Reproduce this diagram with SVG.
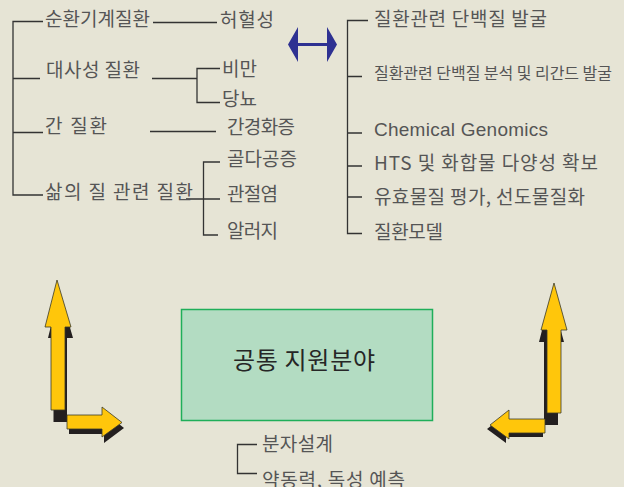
<svg xmlns="http://www.w3.org/2000/svg" width="624" height="487" viewBox="0 0 624 487">
<style>
  .t { font-family: "Noto Sans CJK KR", "Noto Sans", sans-serif; font-size: 19px; fill: #555555; }
  .s { font-size: 16px; }
  .en { font-family: "Liberation Sans", "Noto Sans", sans-serif; font-size: 19px; }
  .ln { stroke: #333333; stroke-width: 1.3; fill: none; }
  .ya { fill: #ffc60b; stroke: #3a3a2a; stroke-width: 0.8; }
  .sh { fill: #231f20; }
</style>
<rect x="0" y="0" width="624" height="487" fill="#e6e4d5"/>

<g id="connectors">
  <path class="ln" d="M43,21.5 H13 V195 H43 M13,78.5 H40 M13,132.5 H43"/>
  <path class="ln" d="M153,22.5 H217"/>
  <path class="ln" d="M152,78.5 H197 M220,68.5 H197 V102.5 H220"/>
  <path class="ln" d="M150,131.5 H216"/>
  <path class="ln" d="M186,199 H220 M220,162 H203.5 V235 H218"/>
  <path class="ln" d="M368,20.5 H347.5 V233.5 H362 M347.5,76.5 H362 M347.5,133 H362 M347.5,166 H362 M347.5,197 H362"/>
  <path class="ln" d="M257,444.5 H237.5 V473.5 H257"/>
</g>

<g id="blue-double-arrow">
  <polygon fill="#2e3192" points="288,44.5 298,27 298,43 327,43 327,27 337,44.5 327,62 327,46 298,46 298,62"/>
</g>

<g id="left-arrows">
  <polygon class="sh" points="59.5,291 73,338 67,338 67,422 53.5,422 53.5,338 48,338"/>
  <polygon class="ya" points="57,280 71,327 65,327 65,410 51,410 51,327 45,327"/>
  <polygon class="sh" points="69,420 104,420 104,412 124,428 104,443 104,434 69,434"/>
  <polygon class="ya" points="67,415 102,415 102,407 122,422.5 102,437 102,429 67,429"/>
</g>

<g id="right-arrows">
  <polygon class="sh" points="551,295 564,342 558,342 558,425 544,425 544,342 539,342"/>
  <polygon class="ya" points="554,283 567,330 561,330 561,413 547,413 547,330 541,330"/>
  <polygon class="sh" points="543,423 506,423 506,414 487,429 506,443 506,437 543,437"/>
  <polygon class="ya" points="545,419 509,419 509,410 490,425 509,439 509,433 545,433"/>
</g>

<g id="n-circ"><text class="t" x="45" y="26" textLength="105">순환기계질환</text></g>
<g id="n-hyeol"><text class="t" x="220" y="27" textLength="54">허혈성</text></g>
<g id="n-meta"><text class="t" x="46" y="77" textLength="94">대사성 질환</text></g>
<g id="n-obesity"><text class="t" x="222" y="76" textLength="35">비만</text></g>
<g id="n-diabetes"><text class="t" x="222" y="106" textLength="35">당뇨</text></g>
<g id="n-liver"><text class="t" x="45" y="133" textLength="62">간 질환</text></g>
<g id="n-cirrhosis"><text class="t" x="227" y="134" textLength="68">간경화증</text></g>
<g id="n-qol"><text class="t" x="45" y="199" textLength="148">삶의 질 관련 질환</text></g>
<g id="n-osteo"><text class="t" x="227" y="166" textLength="70">골다공증</text></g>
<g id="n-arthritis"><text class="t" x="227" y="201" textLength="51">관절염</text></g>
<g id="n-allergy"><text class="t" x="227" y="238" textLength="51">알러지</text></g>

<g id="r-1"><text class="t" x="374" y="26" textLength="173">질환관련 단백질 발굴</text></g>
<g id="r-2"><text class="t s" x="374" y="79" textLength="238">질환관련 단백질 분석 및 리간드 발굴</text></g>
<g id="r-3"><text class="t en" x="374" y="136" textLength="174">Chemical Genomics</text></g>
<g id="r-4"><text class="t" x="374" y="170" textLength="224">HTS 및 화합물 다양성 확보</text></g>
<g id="r-5"><text class="t" x="374" y="204" textLength="211">유효물질 평가, 선도물질화</text></g>
<g id="r-6"><text class="t" x="374" y="239" textLength="69">질환모델</text></g>

<g id="common-box">
  <rect x="181.5" y="309.5" width="251" height="111" fill="#b3dcc2" stroke="#1fae5a" stroke-width="1.5"/>
  <text x="233" y="369" font-family="Noto Sans CJK KR, Noto Sans, sans-serif" font-size="24" fill="#262626" textLength="142">공통 지원분야</text>
</g>
<g id="b-1"><text class="t" x="262" y="451" textLength="71">분자설계</text></g>
<g id="b-2"><text class="t" x="262" y="487" textLength="143">약동력, 독성 예측</text></g>
</svg>
